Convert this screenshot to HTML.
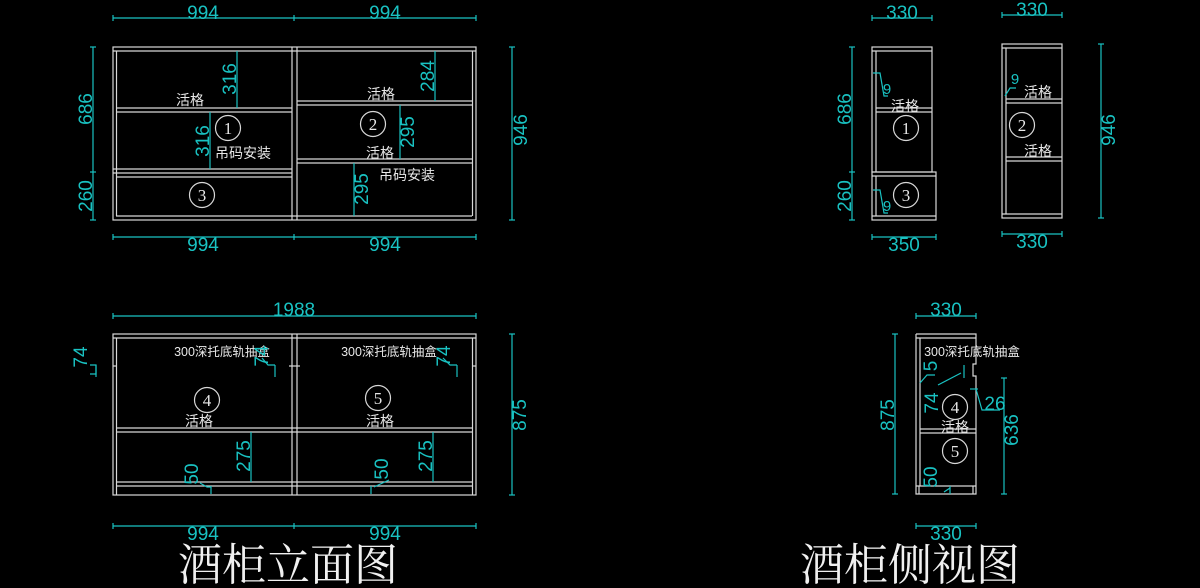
<!DOCTYPE html>
<html><head><meta charset="utf-8">
<style>
html,body{margin:0;padding:0;background:#000;}
svg{display:block}
.w{stroke:#d8d8d8;stroke-width:1.2;fill:none}
.c{stroke:#19c2c2;stroke-width:1.2;fill:none}
.ct{fill:#19c2c2;font-family:"Liberation Sans",sans-serif;font-size:19px;text-anchor:middle}
.wt{fill:#e8e8e8;font-family:"Liberation Sans","Noto Sans CJK SC",sans-serif;font-size:14px;text-anchor:middle}
.st{fill:#e8e8e8;font-family:"Liberation Sans","Noto Sans CJK SC",sans-serif;font-size:12.5px;text-anchor:middle}
.nt{fill:#e8e8e8;font-family:"Liberation Serif",serif;font-size:17px;text-anchor:middle}
.tt{fill:#f0f0f0;font-family:"Noto Serif CJK SC","Noto Sans CJK SC",serif;font-size:44px;text-anchor:middle}
</style></head><body>
<svg width="1200" height="588" viewBox="0 0 1200 588" xmlns="http://www.w3.org/2000/svg">
<!-- ===== Front elevation top ===== -->
<g class="w">
<rect x="113" y="47" width="363" height="173"/>
<line x1="113" y1="51" x2="476" y2="51"/>
<line x1="116.5" y1="51" x2="116.5" y2="216"/>
<line x1="472.5" y1="51" x2="472.5" y2="216"/>
<line x1="292" y1="47" x2="292" y2="220"/>
<line x1="297" y1="47" x2="297" y2="220"/>
<line x1="116" y1="216" x2="472" y2="216"/>
<line x1="116" y1="108" x2="292" y2="108"/><line x1="116" y1="112" x2="292" y2="112"/>
<line x1="113" y1="169" x2="292" y2="169"/><line x1="113" y1="173" x2="292" y2="173"/><line x1="116" y1="177" x2="292" y2="177"/>
<line x1="297" y1="101" x2="472" y2="101"/><line x1="297" y1="105" x2="472" y2="105"/>
<line x1="297" y1="159" x2="472" y2="159"/><line x1="297" y1="163" x2="472" y2="163"/>
<circle cx="228" cy="128" r="12.5"/><circle cx="373" cy="124" r="12.5"/><circle cx="202" cy="195" r="12.5"/>
</g>
<text class="nt" x="228" y="134">1</text><text class="nt" x="373" y="130">2</text><text class="nt" x="202" y="201">3</text>
<text class="wt" x="190" y="105">活格</text>
<text class="wt" x="381" y="99">活格</text>
<text class="wt" x="380" y="158">活格</text>
<text class="wt" x="243" y="158">吊码安装</text>
<text class="wt" x="407" y="180">吊码安装</text>
<g class="c">
<line x1="113" y1="18" x2="476" y2="18"/><line x1="113" y1="15" x2="113" y2="21"/><line x1="294" y1="15" x2="294" y2="21"/><line x1="476" y1="15" x2="476" y2="21"/>
<line x1="113" y1="237" x2="476" y2="237"/><line x1="113" y1="234" x2="113" y2="240"/><line x1="294" y1="234" x2="294" y2="240"/><line x1="476" y1="234" x2="476" y2="240"/>
<line x1="93" y1="47" x2="93" y2="220"/><line x1="90" y1="47" x2="96" y2="47"/><line x1="90" y1="172" x2="96" y2="172"/><line x1="90" y1="220" x2="96" y2="220"/>
<line x1="512" y1="47" x2="512" y2="220"/><line x1="509" y1="47" x2="515" y2="47"/><line x1="509" y1="220" x2="515" y2="220"/>
<line x1="237" y1="51" x2="237" y2="108"/>
<line x1="210" y1="112" x2="210" y2="169"/>
<line x1="435" y1="51" x2="435" y2="101"/>
<line x1="400" y1="105" x2="400" y2="159"/>
<line x1="354" y1="163" x2="354" y2="216"/>
</g>
<text class="ct" x="203" y="19">994</text><text class="ct" x="385" y="19">994</text>
<text class="ct" x="203" y="251">994</text><text class="ct" x="385" y="251">994</text>
<text class="ct" transform="translate(93,109) rotate(-90)" y="-1">686</text>
<text class="ct" transform="translate(93,196) rotate(-90)" y="-1">260</text>
<text class="ct" transform="translate(521,130) rotate(-90)" y="6">946</text>
<text class="ct" transform="translate(237,79) rotate(-90)" y="-1">316</text>
<text class="ct" transform="translate(210,141) rotate(-90)" y="-1">316</text>
<text class="ct" transform="translate(435,76) rotate(-90)" y="-1">284</text>
<text class="ct" transform="translate(400,132) rotate(-90)" y="14">295</text>
<text class="ct" transform="translate(354,189) rotate(-90)" y="14">295</text>

<!-- ===== Side view 1 ===== -->
<g class="w">
<rect x="872" y="47" width="60" height="125"/>
<line x1="872" y1="51" x2="932" y2="51"/>
<line x1="876" y1="51" x2="876" y2="172"/>
<line x1="876" y1="108" x2="932" y2="108"/><line x1="876" y1="112" x2="932" y2="112"/>
<rect x="872" y="172" width="64" height="48"/>
<line x1="872" y1="176" x2="936" y2="176"/>
<line x1="876" y1="176" x2="876" y2="216"/>
<line x1="872" y1="216" x2="936" y2="216"/>
<circle cx="906" cy="128" r="12.5"/><circle cx="906" cy="195" r="12.5"/>
</g>
<text class="nt" x="906" y="134">1</text><text class="nt" x="906" y="201">3</text>
<text class="wt" x="905" y="111">活格</text>
<g class="c">
<line x1="872" y1="18" x2="932" y2="18"/><line x1="872" y1="15" x2="872" y2="21"/><line x1="932" y1="15" x2="932" y2="21"/>
<line x1="872" y1="237" x2="936" y2="237"/><line x1="872" y1="234" x2="872" y2="240"/><line x1="936" y1="234" x2="936" y2="240"/>
<line x1="852" y1="47" x2="852" y2="220"/><line x1="849" y1="47" x2="855" y2="47"/><line x1="849" y1="172" x2="855" y2="172"/><line x1="849" y1="220" x2="855" y2="220"/>
<polyline points="873,73 880,73 884,96 888,96"/>
<polyline points="873,190 880,190 884,213 888,213"/>
</g>
<text class="ct" x="902" y="19">330</text><text class="ct" x="904" y="251">350</text>
<text class="ct" transform="translate(852,109) rotate(-90)" y="-1">686</text>
<text class="ct" transform="translate(852,196) rotate(-90)" y="-1">260</text>
<text class="ct" style="font-size:15px" x="887" y="94">9</text>
<text class="ct" style="font-size:15px" x="887" y="211">9</text>

<!-- ===== Side view 2 ===== -->
<g class="w">
<rect x="1002" y="44" width="60" height="174"/>
<line x1="1002" y1="48" x2="1062" y2="48"/>
<line x1="1006" y1="48" x2="1006" y2="214"/>
<line x1="1002" y1="214" x2="1062" y2="214"/>
<line x1="1006" y1="99" x2="1062" y2="99"/><line x1="1006" y1="103" x2="1062" y2="103"/>
<line x1="1006" y1="157" x2="1062" y2="157"/><line x1="1006" y1="161" x2="1062" y2="161"/>
<circle cx="1022" cy="125" r="12.5"/>
</g>
<text class="nt" x="1022" y="131">2</text>
<text class="wt" x="1038" y="97">活格</text>
<text class="wt" x="1038" y="156">活格</text>
<g class="c">
<line x1="1002" y1="15" x2="1062" y2="15"/><line x1="1002" y1="12" x2="1002" y2="18"/><line x1="1062" y1="12" x2="1062" y2="18"/>
<line x1="1002" y1="234" x2="1062" y2="234"/><line x1="1002" y1="231" x2="1002" y2="237"/><line x1="1062" y1="231" x2="1062" y2="237"/>
<line x1="1101" y1="44" x2="1101" y2="218"/><line x1="1098" y1="44" x2="1104" y2="44"/><line x1="1098" y1="218" x2="1104" y2="218"/>
<polyline points="1005,96 1010,88 1016,88"/>
</g>
<text class="ct" x="1032" y="16">330</text><text class="ct" x="1032" y="248">330</text>
<text class="ct" transform="translate(1101,130) rotate(-90)" y="14">946</text>
<text class="ct" style="font-size:15px" x="1015" y="84">9</text>

<!-- ===== Front elevation bottom ===== -->
<g class="w">
<rect x="113" y="334" width="363" height="161"/>
<line x1="113" y1="338" x2="476" y2="338"/>
<line x1="116.5" y1="338" x2="116.5" y2="495"/>
<line x1="472.5" y1="338" x2="472.5" y2="495"/>
<line x1="292" y1="334" x2="292" y2="495"/><line x1="297" y1="334" x2="297" y2="495"/>
<line x1="116" y1="428" x2="472" y2="428"/><line x1="116" y1="432" x2="472" y2="432"/>
<line x1="116" y1="482" x2="472" y2="482"/><line x1="116" y1="486" x2="472" y2="486"/>
<line x1="113" y1="366" x2="116" y2="366"/><line x1="289" y1="366" x2="300" y2="366"/><line x1="472" y1="366" x2="476" y2="366"/>
<circle cx="207" cy="400" r="12.5"/><circle cx="378" cy="398" r="12.5"/>
</g>
<text class="nt" x="207" y="406">4</text><text class="nt" x="378" y="404">5</text>
<text class="wt" x="199" y="426">活格</text><text class="wt" x="380" y="426">活格</text>
<text class="st" x="222" y="356">300深托底轨抽盒</text>
<text class="st" x="389" y="356">300深托底轨抽盒</text>
<g class="c">
<line x1="113" y1="316" x2="476" y2="316"/><line x1="113" y1="313" x2="113" y2="319"/><line x1="476" y1="313" x2="476" y2="319"/>
<line x1="113" y1="526" x2="476" y2="526"/><line x1="113" y1="523" x2="113" y2="529"/><line x1="294" y1="523" x2="294" y2="529"/><line x1="476" y1="523" x2="476" y2="529"/>
<line x1="512" y1="334" x2="512" y2="495"/><line x1="509" y1="334" x2="515" y2="334"/><line x1="509" y1="495" x2="515" y2="495"/>
<line x1="251" y1="432" x2="251" y2="482"/><line x1="433" y1="432" x2="433" y2="482"/>
<polyline points="90,365 96,365 96,374 90,374"/><line x1="96" y1="365" x2="96" y2="377"/>
<polyline points="262,358 268,365 275,365"/><line x1="275" y1="365" x2="275" y2="377"/>
<polyline points="443,358 450,365 457,365"/><line x1="457" y1="365" x2="457" y2="377"/>
<polyline points="200,483 207,487 211,487"/><line x1="211" y1="486" x2="211" y2="494"/>
<polyline points="389,480 374,487"/><line x1="371" y1="486" x2="371" y2="494"/>
</g>
<text class="ct" x="294" y="316">1988</text>
<text class="ct" x="203" y="540">994</text><text class="ct" x="385" y="540">994</text>
<text class="ct" transform="translate(512,415) rotate(-90)" y="14">875</text>
<text class="ct" transform="translate(251,456) rotate(-90)" y="-1">275</text>
<text class="ct" transform="translate(433,456) rotate(-90)" y="-1">275</text>
<text class="ct" transform="translate(87,357) rotate(-90)" y="0">74</text>
<text class="ct" transform="translate(268,356) rotate(-90)" y="0">74</text>
<text class="ct" transform="translate(450,356) rotate(-90)" y="0">74</text>
<text class="ct" transform="translate(198,474) rotate(-90)" y="0">50</text>
<text class="ct" transform="translate(388,469) rotate(-90)" y="0">50</text>

<!-- ===== Side view 3 ===== -->
<g class="w">
<polyline points="916,334 976,334 976,364 973,364 973,376 976,376 976,494 916,494 916,334"/>
<line x1="916" y1="338" x2="976" y2="338"/>
<line x1="920" y1="338" x2="920" y2="486"/>
<line x1="920" y1="429" x2="976" y2="429"/><line x1="920" y1="433" x2="976" y2="433"/>
<line x1="916" y1="486" x2="976" y2="486"/>
<line x1="919" y1="486" x2="919" y2="494"/><line x1="973" y1="486" x2="973" y2="494"/>
<circle cx="955" cy="407" r="12.5"/><circle cx="955" cy="451" r="12.5"/>
</g>
<text class="nt" x="955" y="413">4</text><text class="nt" x="955" y="457">5</text>
<text class="wt" x="955" y="432">活格</text>
<text class="st" x="972" y="356">300深托底轨抽盒</text>
<g class="c">
<line x1="916" y1="316" x2="976" y2="316"/><line x1="916" y1="313" x2="916" y2="319"/><line x1="976" y1="313" x2="976" y2="319"/>
<line x1="916" y1="526" x2="976" y2="526"/><line x1="916" y1="523" x2="916" y2="529"/><line x1="976" y1="523" x2="976" y2="529"/>
<line x1="895" y1="334" x2="895" y2="494"/><line x1="892" y1="334" x2="898" y2="334"/><line x1="892" y1="494" x2="898" y2="494"/>
<line x1="1004" y1="378" x2="1004" y2="494"/><line x1="1001" y1="378" x2="1007" y2="378"/><line x1="1001" y1="494" x2="1007" y2="494"/>
<polyline points="920,383 927,375 935,375"/>
<polyline points="938,385 961,373"/><line x1="964" y1="365" x2="964" y2="378"/>
<polyline points="970,389 978,389"/><polyline points="976,389 982,410 1000,410"/>
<polyline points="950,488 944,492"/><line x1="950" y1="486" x2="950" y2="494"/>
</g>
<text class="ct" x="946" y="316">330</text><text class="ct" x="946" y="540">330</text>
<text class="ct" transform="translate(895,415) rotate(-90)" y="-1">875</text>
<text class="ct" transform="translate(1004,430) rotate(-90)" y="14">636</text>
<text class="ct" transform="translate(938,403) rotate(-90)" y="0">74</text>
<text class="ct" transform="translate(937,477) rotate(-90)" y="0">50</text>
<text class="ct" transform="translate(937,366) rotate(-90)" y="0">5</text>
<text class="ct" x="995" y="410">26</text>

<!-- titles -->
<text class="tt" x="288" y="580">酒柜立面图</text>
<text class="tt" x="910" y="580">酒柜侧视图</text>
</svg>
</body></html>
